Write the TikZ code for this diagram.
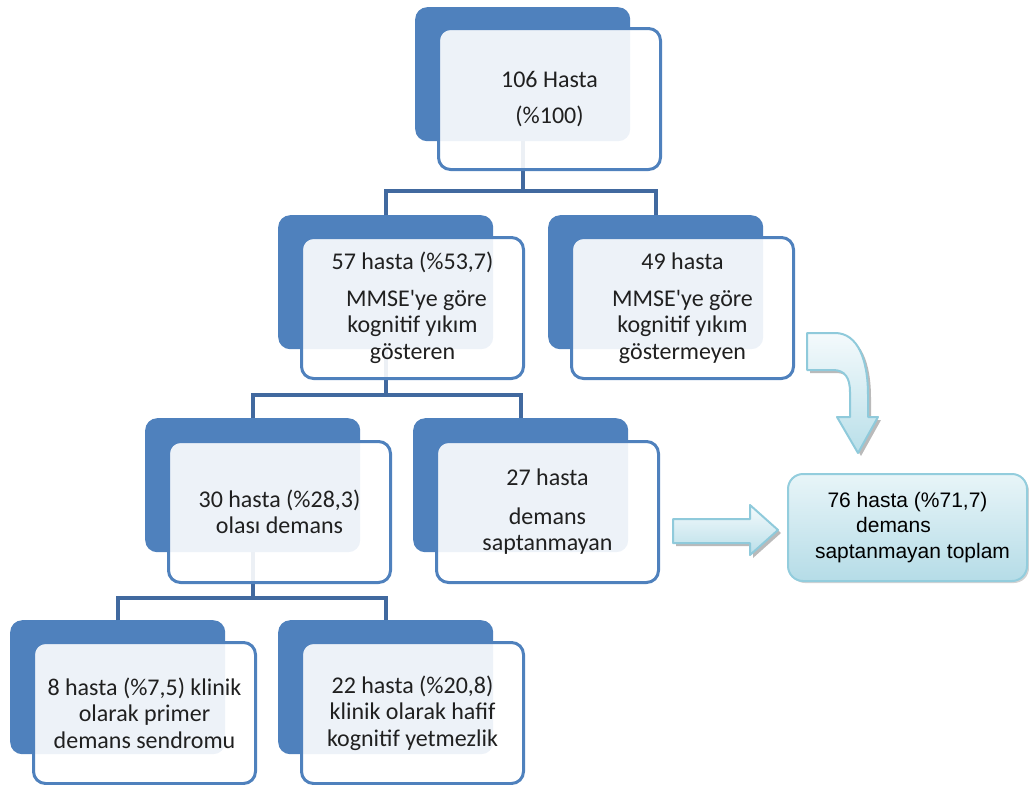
\documentclass[tikz,border=0pt]{standalone}
\usepackage{fontspec}
\setmainfont{Carlito}
\newfontfamily\arialf{Liberation Sans}
\usetikzlibrary{shadows,calc}
\definecolor{backblue}{HTML}{4F81BD}
\definecolor{connblue}{HTML}{41699F}
\definecolor{arrowedge}{HTML}{8FCADB}
\definecolor{arrowtop}{HTML}{F4FAFC}
\definecolor{arrowbot}{HTML}{B9DFE9}
\definecolor{finaltop}{HTML}{E8F5F8}
\definecolor{finalbot}{HTML}{B5DCE7}
\definecolor{finaledge}{HTML}{93CDDD}
\definecolor{txt}{HTML}{202020}
\begin{document}
\begin{tikzpicture}[x=1pt,y=-1pt,
  backbox/.style={fill=backblue, rounded corners=12pt, minimum width=215pt, minimum height=134pt, inner sep=0pt, anchor=north west},
  frontbox/.style={draw=backblue, line width=3pt, fill=white, fill opacity=0.9, text opacity=1, rounded corners=12pt, minimum width=222pt, minimum height=141pt, inner sep=0pt, anchor=north west, align=center, font=\fontsize{24}{26.5}\selectfont, text=txt},
  conn/.style={draw=connblue, line width=4pt},
  blockarrow/.style={draw=arrowedge, line width=2pt, line join=round, top color=arrowtop, bottom color=arrowbot, drop shadow={shadow xshift=3pt, shadow yshift=-3pt, fill=black!45, opacity=0.6}},
  finalbox/.style={draw=finaledge, line width=2pt, rounded corners=15pt, top color=finaltop, bottom color=finalbot, minimum width=239pt, minimum height=107pt, inner sep=0pt, anchor=north west, align=center, font=\arialf\fontsize{21}{25.5}\selectfont, text=black, drop shadow={shadow xshift=2pt, shadow yshift=-2pt, fill=black!35, opacity=0.5}}
]
\useasboundingbox (0,0) rectangle (1029,785);

% back boxes
\node[backbox] (b1)  at (415,7)   {};
\node[backbox] (b2l) at (278,215) {};
\node[backbox] (b2r) at (548,215) {};
\node[backbox] (b3l) at (145,418) {};
\node[backbox] (b3r) at (413,418) {};
\node[backbox] (b4l) at (10,620)  {};
\node[backbox] (b4r) at (278,620) {};

% connectors
\draw[conn] (b1.south) -- ++(0,50) coordinate (j1);
\draw[conn] (b2l.north) |- (j1) -| (b2r.north);
\draw[conn] (b2l.south) -- ++(0,46) coordinate (j2);
\draw[conn] (b3l.north) |- (j2) -| (b3r.north);
\draw[conn] (b3l.south) -- ++(0,46) coordinate (j3);
\draw[conn] (b4l.north) |- (j3) -| (b4r.north);

% front boxes
\node[frontbox] (f1)  at (437,27)  {106 Hasta\\[10pt](\%100)};
\node[frontbox] (f2l) at (300,236) {57 hasta (\%53,7)\\[10pt]\hspace*{8pt}MMSE\textquotesingle ye göre\\kognitif yıkım\\gösteren};
\node[frontbox] (f2r) at (570,236) {49 hasta\\[10pt]MMSE\textquotesingle ye göre\\kognitif yıkım\\göstermeyen};
\node[frontbox] (f3l) at (167,440) {30 hasta (\%28,3)\\olası demans};
\node[frontbox] (f3r) at (435,440) {27 hasta\\[12pt]demans\\saptanmayan};
\node[frontbox] (f4l) at (32,641)  {8 hasta (\%7,5) klinik\\olarak primer\\demans sendromu};
\node[frontbox] (f4r) at (300,641) {22 hasta (\%20,8)\\klinik olarak hafif\\kognitif yetmezlik};

% block arrows
\path[blockarrow] (807,333) -- (835,333) .. controls (858,333) and (868,360) .. (868,395) -- (868,417) -- (878,417) -- (858,453) -- (837,417) -- (850,417) -- (850,392) .. controls (850,378) and (845,370) .. (833,370) -- (807,370) -- cycle;
\path[blockarrow] (673,519) -- (750,519) -- (750,505) -- (778,530) -- (750,555) -- (750,543) -- (673,543) -- cycle;

% final box
\node[finalbox] (fin) at (787,473) {76 hasta (\%71,7)\\demans\rule{28pt}{0pt}\\\rule{10pt}{0pt}saptanmayan toplam};
\end{tikzpicture}
\end{document}
